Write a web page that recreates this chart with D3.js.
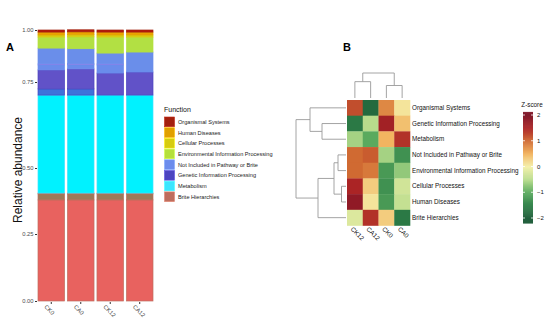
<!DOCTYPE html>
<html><head><meta charset="utf-8">
<script src="https://cdn.jsdelivr.net/npm/d3@7"></script>
<style>body{margin:0;background:#fff} svg{display:block;font-family:"Liberation Sans",Arial,sans-serif}</style>
</head><body><svg id="c" width="550" height="322"></svg>
<script>
// ---------- Panel A data ----------
const samples = ["CK0", "CA0", "CK12", "CA12"];
const functions = ["Organismal Systems", "Human Diseases", "Cellular Processes",
  "Environmental Information Processing", "Not Included in Pathway or Brite",
  "Genetic Information Processing", "Metabolism", "Brite Hierarchies"];
// sub-level segments, bottom to top, with their level-1 function
const segmentNames = ["Brite a", "Brite b", "Brite c", "Metabolism a", "Genetic b", "Genetic a",
  "Not Included b", "Not Included c", "Not Included a", "Environmental a", "Cellular a", "Human a", "Organismal a"];
const segmentGroups = ["Brite Hierarchies", "Brite Hierarchies", "Brite Hierarchies", "Metabolism",
  "Genetic Information Processing", "Genetic Information Processing",
  "Not Included in Pathway or Brite", "Not Included in Pathway or Brite", "Not Included in Pathway or Brite",
  "Environmental Information Processing", "Cellular Processes", "Human Diseases", "Organismal Systems"];
const valuesCK0  = [0.379, 0.023, 0.003, 0.307, 0.018, 0.078, 0.024, 0.005, 0.076, 0.053, 0.010, 0.014, 0.010];
const valuesCA0  = [0.379, 0.023, 0.003, 0.307, 0.018, 0.083, 0.020, 0.005, 0.072, 0.057, 0.010, 0.014, 0.010];
const valuesCK12 = [0.379, 0.023, 0.003, 0.307, 0.000, 0.081, 0.039, 0.005, 0.052, 0.077, 0.010, 0.014, 0.010];
const valuesCA12 = [0.379, 0.023, 0.003, 0.307, 0.000, 0.086, 0.000, 0.000, 0.096, 0.072, 0.010, 0.014, 0.010];
const yTicks = [0, 0.25, 0.5, 0.75, 1];

// ---------- Panel B data ----------
const heatRows = ["Organismal Systems", "Genetic Information Processing", "Metabolism",
  "Not Included in Pathway or Brite", "Environmental Information Processing",
  "Cellular Processes", "Human Diseases", "Brite Hierarchies"];
const heatCols = ["CK12", "CA12", "CK0", "CA0"];
const zOrganismal    = [1.2, -1.8, 0.8, 0.1];
const zGenetic       = [-1.6, -0.5, 1.6, 0.4];
const zMetabolism    = [-0.6, -1.0, 0.5, 1.4];
const zNotIncluded   = [1.0, 1.1, -0.6, -1.3];
const zEnvironmental = [1.0, 0.9, -1.2, -0.7];
const zCellular      = [1.5, 0.3, -1.3, -0.3];
const zHuman         = [1.8, 0.1, -1.2, -0.4];
const zBrite         = [-0.2, 1.4, 0.3, -1.6];
const zTicks = [2, 1, 0, -1, -2];
// dendrograms: merge heights and structure
const rowTree = {h: 5.0, c: [
  {h: 3.6, c: ["Organismal Systems", {h: 2.4, c: ["Genetic Information Processing", "Metabolism"]}]},
  {h: 2.8, c: [{h: 1.2, c: [{h: 0.8, c: ["Not Included in Pathway or Brite", "Environmental Information Processing"]},
                           {h: 0.45, c: ["Cellular Processes", "Human Diseases"]}]},
              "Brite Hierarchies"]}]};
const colTree = {h: 2.6, c: [{h: 1.7, c: ["CK12", "CA12"]}, {h: 1.3, c: ["CK0", "CA0"]}]};

// ---------- styles ----------
const groupColor = {
  "Organismal Systems": "#A3200E", "Human Diseases": "#E0A000", "Cellular Processes": "#D6CC10",
  "Environmental Information Processing": "#B5E03C", "Not Included in Pathway or Brite": "#6C8CEC",
  "Genetic Information Processing": "#4C44C0", "Metabolism": "#3CE6FF", "Brite Hierarchies": "#BE6E5E"};
const segmentFill = ["#E8625F", "#9C7A58", "#C49AE8", "#00F2FF", "#3E72DA", "#6152C8",
  "#6A8CEB", "#C46CE0", "#6A8EEA", "#B2E043", "#D8CC14", "#EBA400", "#B41A0C"];

const svg = d3.select("#c");
const font = "Liberation Sans, Arial, sans-serif";

// ================= Panel A =================
const valuesBySample = {CK0: valuesCK0, CA0: valuesCA0, CK12: valuesCK12, CA12: valuesCA12};
const table = samples.map(s => {
  const row = {sample: s};
  segmentNames.forEach((n, i) => row[n] = valuesBySample[s][i]);
  return row;
});
const stack = d3.stack().keys(segmentNames)(table);
const x = d3.scaleBand().domain(samples).range([38, 153]).paddingInner(0.1).paddingOuter(0);
const y = d3.scaleLinear().domain(yTicks).range([301, 234, 168, 82, 30]);

const gA = svg.append("g");
gA.selectAll("g.layer").data(stack).join("g").attr("class", "layer")
  .each(function(layer, li) {
    d3.select(this).selectAll("rect").data(layer).join("rect")
      .attr("x", d => x(d.data.sample))
      .attr("width", x.bandwidth())
      .attr("y", d => y(d[1]))
      .attr("height", d => Math.max(0, y(d[0]) - y(d[1])))
      .attr("fill", segmentFill[li])
      .attr("stroke", groupColor[segmentGroups[li]])
      .attr("stroke-width", 0.7);
  });

const yAxis = gA.append("g").attr("transform", "translate(37,0)")
  .call(d3.axisLeft(y).tickValues(yTicks).tickFormat(d3.format(".2f")).tickSize(2).tickPadding(1.5));
yAxis.select(".domain").remove();
yAxis.selectAll("line").attr("stroke", "#333");
yAxis.selectAll("text").attr("font-size", 5.8).attr("fill", "#4d4d4d").attr("font-family", font);

const xAxis = gA.append("g").attr("transform", "translate(0,302)")
  .call(d3.axisBottom(x).tickSize(2).tickPadding(2));
xAxis.select(".domain").remove();
xAxis.selectAll("line").attr("stroke", "#333");
xAxis.selectAll("text").attr("font-size", 5.8).attr("fill", "#4d4d4d").attr("font-family", font)
  .attr("text-anchor", "start").attr("dy", "0.35em")
  .attr("transform", "translate(-3,1) rotate(45)");

gA.append("text").attr("transform", "translate(22,170) rotate(-90)").attr("text-anchor", "middle")
  .attr("font-size", 12).attr("fill", "#111").text("Relative abundance");
svg.append("text").attr("x", 6).attr("y", 51).attr("font-size", 11).attr("font-weight", "bold").text("A");

// legend
const lg = svg.append("g").attr("transform", "translate(164,110)");
lg.append("text").attr("x", 0).attr("y", 2).attr("font-size", 7).attr("fill", "#111").text("Function");
functions.forEach((f, i) => {
  const yy = 7 + i * 10.7;
  lg.append("rect").attr("x", 0.5).attr("y", yy).attr("width", 10).attr("height", 9.7)
    .attr("fill", groupColor[f]).attr("stroke", d3.color(groupColor[f]).brighter(0.5)).attr("stroke-width", 0.6);
  lg.append("text").attr("x", 14).attr("y", yy + 6.9).attr("font-size", 5.6).attr("fill", "#222").text(f);
});

// ================= Panel B =================
svg.append("text").attr("x", 343).attr("y", 51).attr("font-size", 11).attr("font-weight", "bold").text("B");
const zByRow = [zOrganismal, zGenetic, zMetabolism, zNotIncluded, zEnvironmental, zCellular, zHuman, zBrite];
const hx = d3.scaleBand().domain(heatCols).range([347, 410]);
const hy = d3.scaleBand().domain(heatRows).range([100, 225.5]);
const zColor = d3.scaleLinear().domain([-2, -1.5, -1, -0.5, 0, 0.5, 1, 1.5, 2])
  .range(["#1d5c38", "#2f8048", "#5aaa5e", "#b8dc8c", "#f4f0aa", "#f2b460", "#d06a32", "#ab2425", "#7e1426"])
  .clamp(true);
const cells = [];
heatRows.forEach((r, i) => heatCols.forEach((c, j) => cells.push({r, c, z: zByRow[i][j]})));
svg.append("g").selectAll("rect").data(cells).join("rect")
  .attr("x", d => hx(d.c)).attr("y", d => hy(d.r))
  .attr("width", hx.bandwidth() + 0.3).attr("height", hy.bandwidth() + 0.3)
  .attr("fill", d => zColor(d.z));

svg.append("g").selectAll("text").data(heatRows).join("text")
  .attr("x", 412).attr("y", d => hy(d) + hy.bandwidth() / 2).attr("dy", "0.35em")
  .attr("font-size", 6.3).attr("fill", "#111").text(d => d);
svg.append("g").selectAll("text").data(heatCols).join("text")
  .attr("transform", d => `translate(${hx(d) + hx.bandwidth() / 2 - 3},228) rotate(45)`)
  .attr("dy", "0.35em").attr("font-size", 6.3).attr("fill", "#111").text(d => d);

// dendrograms
function layoutTree(node, pos) {
  if (typeof node === "string") return {pos: pos(node), h: 0};
  const kids = node.c.map(k => layoutTree(k, pos));
  return {pos: (kids[0].pos + kids[kids.length - 1].pos) / 2, h: node.h, kids};
}
function drawTree(g, t, toLine) {
  if (!t.kids) return;
  const ps = t.kids.map(k => k.pos);
  g.append("line").call(toLine, t.h, d3.min(ps), t.h, d3.max(ps));
  t.kids.forEach(k => { g.append("line").call(toLine, t.h, k.pos, k.h, k.pos); drawTree(g, k, toLine); });
}
const rowH = d3.scaleLinear().domain([0, rowTree.h]).range([346, 296]);
const rT = layoutTree(rowTree, n => hy(n) + hy.bandwidth() / 2);
const gR = svg.append("g").attr("stroke", "#9a9a9a").attr("stroke-width", 0.9);
drawTree(gR, rT, (sel, h1, p1, h2, p2) => sel.attr("x1", rowH(h1)).attr("y1", p1).attr("x2", rowH(h2)).attr("y2", p2));
const colH = d3.scaleLinear().domain([0, colTree.h]).range([98, 73]);
const cT = layoutTree(colTree, n => hx(n) + hx.bandwidth() / 2);
const gC = svg.append("g").attr("stroke", "#9a9a9a").attr("stroke-width", 0.9);
drawTree(gC, cT, (sel, h1, p1, h2, p2) => sel.attr("y1", colH(h1)).attr("x1", p1).attr("y2", colH(h2)).attr("x2", p2));

// colour bar
const zy = d3.scaleLinear().domain([-2, 2]).range([218, 115]);
const cb = svg.append("g");
const steps = d3.range(-2.2, 2.12, 0.02);
cb.selectAll("rect").data(steps).join("rect")
  .attr("x", 523).attr("width", 10).attr("y", d => zy(d + 0.02)).attr("height", zy(0) - zy(0.02) + 0.4)
  .attr("fill", d => zColor(d + 0.01));
zTicks.forEach(t => {
  cb.append("line").attr("x1", 523).attr("x2", 525).attr("y1", zy(t)).attr("y2", zy(t)).attr("stroke", "#fff").attr("stroke-width", 0.8);
  cb.append("line").attr("x1", 531).attr("x2", 533).attr("y1", zy(t)).attr("y2", zy(t)).attr("stroke", "#fff").attr("stroke-width", 0.8);
  cb.append("text").attr("x", 537).attr("y", zy(t)).attr("dy", "0.35em").attr("font-size", 6)
    .attr("fill", "#111").text(t < 0 ? "\u2212" + Math.abs(t) : t);
});
cb.append("text").attr("x", 532).attr("y", 107).attr("text-anchor", "middle").attr("font-size", 6.3)
  .attr("fill", "#111").text("Z-score");
</script></body></html>
